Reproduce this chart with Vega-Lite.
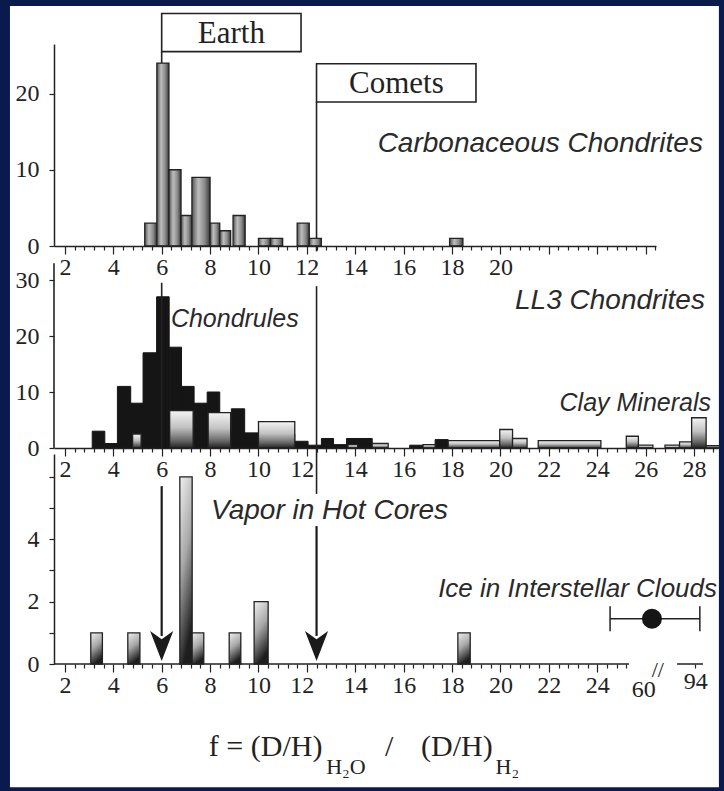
{
  "$schema": "https://vega.github.io/schema/vega-lite/v6.json",
  "padding": {"left": 9, "top": 5, "right": 6, "bottom": 5},
  "bounds": "flush",
  "spacing": 6,
  "resolve": {"scale": {"x": "independent", "y": "independent"}},
  "config": {
    "background": "#0b1a4c",
    "view": {"stroke": null},
    "axis": {"domainColor": "#222", "domainWidth": 1.5, "tickColor": "#222", "tickWidth": 1.2, "labelColor": "#222", "labelFont": "Liberation Serif", "labelFontSize": 24, "grid": false, "zindex": 1}
  },
  "datasets": {
    "frame": [{"x0": -0.27, "x1": 29.03, "y0": -71.0, "y1": 31.5}],
    "carb": [
      {"x0": 5.3, "x1": 5.8, "n": 3},
      {"x0": 5.8, "x1": 6.3, "n": 24},
      {"x0": 6.3, "x1": 6.8, "n": 10},
      {"x0": 6.8, "x1": 7.25, "n": 4},
      {"x0": 7.25, "x1": 8.0, "n": 9},
      {"x0": 8.0, "x1": 8.4, "n": 3},
      {"x0": 8.4, "x1": 8.85, "n": 2},
      {"x0": 8.95, "x1": 9.45, "n": 4},
      {"x0": 10.0, "x1": 10.5, "n": 1},
      {"x0": 10.5, "x1": 11.0, "n": 1},
      {"x0": 11.6, "x1": 12.1, "n": 3},
      {"x0": 12.1, "x1": 12.6, "n": 1},
      {"x0": 17.9, "x1": 18.45, "n": 1}
    ],
    "p1rules": [{"x": 6, "y0": 0, "y1": 25.5}, {"x": 12.4, "y0": -0.7, "y1": 18.9}],
    "boxes": [
      {"x0": 6, "x1": 11.76, "y0": 25.5, "y1": 30.5, "xc": 8.88, "yc": 28.0, "label": "Earth"},
      {"x0": 12.4, "x1": 18.99, "y0": 18.9, "y1": 23.9, "xc": 15.7, "yc": 21.4, "label": "Comets"}
    ],
    "p1text": [{"x": 28.37, "y": 13.4, "label": "Carbonaceous Chondrites"}],
    "chondrules": [
      {"x0": 3.13, "x1": 3.65, "n": 3},
      {"x0": 3.65, "x1": 4.17, "n": 0.8},
      {"x0": 4.17, "x1": 4.72, "n": 11},
      {"x0": 4.72, "x1": 5.23, "n": 8},
      {"x0": 5.23, "x1": 5.79, "n": 17},
      {"x0": 5.79, "x1": 6.31, "n": 27},
      {"x0": 6.31, "x1": 6.82, "n": 18},
      {"x0": 6.82, "x1": 7.34, "n": 11},
      {"x0": 7.34, "x1": 7.88, "n": 8},
      {"x0": 7.88, "x1": 8.4, "n": 10},
      {"x0": 8.4, "x1": 8.88, "n": 3},
      {"x0": 8.88, "x1": 9.43, "n": 7},
      {"x0": 9.43, "x1": 9.99, "n": 2.7},
      {"x0": 9.99, "x1": 11.5, "n": 2.5},
      {"x0": 11.5, "x1": 12.05, "n": 1.2},
      {"x0": 12.05, "x1": 12.6, "n": 0.5},
      {"x0": 12.6, "x1": 13.1, "n": 1.7},
      {"x0": 13.1, "x1": 13.64, "n": 0.6},
      {"x0": 13.64, "x1": 14.7, "n": 1.7},
      {"x0": 16.25, "x1": 16.8, "n": 0.5},
      {"x0": 17.3, "x1": 17.84, "n": 1.5}
    ],
    "clay": [
      {"x0": 4.8, "x1": 5.15, "n": 2.5},
      {"x0": 6.33, "x1": 7.3, "n": 6.7},
      {"x0": 7.92, "x1": 8.85, "n": 6.3},
      {"x0": 10.0, "x1": 11.5, "n": 4.7},
      {"x0": 13.7, "x1": 14.1, "n": 0.6},
      {"x0": 14.7, "x1": 15.36, "n": 0.8},
      {"x0": 16.8, "x1": 17.3, "n": 0.6},
      {"x0": 17.84, "x1": 19.97, "n": 1.3},
      {"x0": 19.97, "x1": 20.5, "n": 3.3},
      {"x0": 20.5, "x1": 21.1, "n": 1.7},
      {"x0": 21.56, "x1": 24.15, "n": 1.3},
      {"x0": 25.2, "x1": 25.7, "n": 2.1},
      {"x0": 25.7, "x1": 26.3, "n": 0.5},
      {"x0": 26.8, "x1": 27.4, "n": 0.5},
      {"x0": 27.4, "x1": 27.9, "n": 1.1},
      {"x0": 27.9, "x1": 28.5, "n": 5.4},
      {"x0": 28.5, "x1": 29.05, "n": 0.4}
    ],
    "p2rules": [{"x": 1.55, "y0": 0, "y1": 33.0}, {"x": 6, "y0": 0, "y1": 29.5}, {"x": 12.4, "y0": -8.2, "y1": 28.9}],
    "p2big": [{"x": 28.45, "y": 26.25, "label": "LL3 Chondrites"}],
    "p2left": [{"x": 6.38, "y": 23.0, "label": "Chondrules"}],
    "p2right": [{"x": 28.7, "y": 8.0, "label": "Clay Minerals"}],
    "vapor": [
      {"x0": 3.07, "x1": 3.55, "n": 1},
      {"x0": 4.6, "x1": 5.1, "n": 1},
      {"x0": 6.75, "x1": 7.26, "n": 6},
      {"x0": 7.26, "x1": 7.74, "n": 1},
      {"x0": 8.79, "x1": 9.27, "n": 1},
      {"x0": 9.82, "x1": 10.4, "n": 2},
      {"x0": 18.24, "x1": 18.75, "n": 1}
    ],
    "p3axis": [{"x0": 1.55, "x1": 25.31, "y": 0}, {"x0": 27.3, "x1": 28.37, "y": 0}],
    "arrows": [{"x": 6, "y0": 0.9, "y1": 5.7}, {"x": 12.4, "y0": 0.9, "y1": 4.42}],
    "heads": [{"x": 6, "y": 0.58}, {"x": 12.4, "y": 0.58}],
    "ice": [{"x": 26.26, "lo": 24.53, "hi": 28.24, "y": 1.45}],
    "icecaps": [{"x": 24.53, "y0": 1.05, "y1": 1.85}, {"x": 28.24, "y0": 1.05, "y1": 1.85}],
    "p3vapor": [{"x": 8.04, "y": 4.9, "label": "Vapor in Hot Cores"}],
    "p3ice": [{"x": 28.95, "y": 2.4, "label": "Ice in Interstellar Clouds"}],
    "brk": [{"x": 26.5, "y": -0.18, "label": "//"}],
    "formula": [
      {"x": 7.95, "y": -2.95, "label": "f = (D/H)"},
      {"x": 15.23, "y": -2.95, "label": "/"},
      {"x": 16.72, "y": -2.95, "label": "(D/H)"}
    ],
    "subs": [
      {"x": 12.8, "y": -3.53, "label": "H₂O"},
      {"x": 19.8, "y": -3.53, "label": "H₂"}
    ]
  },
  "vconcat": [
    {
      "width": 602,
      "height": 202,
      "layer": [
        {
          "data": {"name": "frame"},
          "mark": {"type": "rect", "fill": "white", "stroke": null},
          "encoding": {
            "x": {"field": "x0", "type": "quantitative", "scale": {"domain": [1.55, 26.43], "nice": false, "zero": false},
              "axis": {"title": null, "zindex": 2, "tickCount": 1000, "values": [2,2.4,2.8,3.2,3.6,4,4.4,4.8,5.2,5.6,6,6.4,6.8,7.2,7.6,8,8.4,8.8,9.2,9.6,10,10.4,10.8,11.2,11.6,12,12.4,12.8,13.2,13.6,14,14.4,14.8,15.2,15.6,16,16.4,16.8,17.2,17.6,18,18.4,18.8,19.2,19.6,20,20.4,20.8,21.2,21.6,22,22.4,22.8,23.2,23.6,24,24.4,24.8,25.2,25.6,26,26.4],
                "labelExpr": "datum.value % 2 == 0 && datum.value <= 20 ? '' + datum.value : ''",
                "tickSize": {"condition": {"test": "datum.value % 2 == 0", "value": 8}, "value": 4},
                "labelPadding": 1, "labelOverlap": false, "labelFlush": false, "labelBound": false}},
            "x2": {"field": "x1"},
            "y": {"field": "y0", "type": "quantitative", "scale": {"domain": [0, 26.5], "nice": false, "zero": false},
              "axis": {"title": null, "zindex": 2, "tickCount": 1000, "values": [0, 10, 20], "labelExpr": "'' + datum.value", "tickSize": 5, "labelPadding": 10, "labelOverlap": false, "labelFlush": false}},
            "y2": {"field": "y1"}
          }
        },
        {
          "data": {"name": "p1rules"},
          "mark": {"type": "rule", "color": "#222", "strokeWidth": 1.6},
          "encoding": {
            "x": {"field": "x", "type": "quantitative", "scale": {"domain": [1.55, 26.43], "nice": false, "zero": false}},
            "y": {"field": "y0", "type": "quantitative", "scale": {"domain": [0, 26.5], "nice": false, "zero": false}},
            "y2": {"field": "y1"}
          }
        },
        {
          "data": {"name": "carb"},
          "mark": {"type": "rect", "stroke": "#222", "strokeWidth": 1.3,
            "fill": {"gradient": "linear", "x1": 0, "y1": 0, "x2": 1, "y2": 0, "stops": [{"offset": 0, "color": "#555555"}, {"offset": 0.35, "color": "#bdbdbd"}, {"offset": 0.7, "color": "#8a8a8a"}, {"offset": 1, "color": "#383838"}]}},
          "encoding": {
            "x": {"field": "x0", "type": "quantitative", "scale": {"domain": [1.55, 26.43], "nice": false, "zero": false}},
            "x2": {"field": "x1"},
            "y": {"field": "n", "type": "quantitative", "scale": {"domain": [0, 26.5], "nice": false, "zero": false}},
            "y2": {"datum": 0}
          }
        },
        {
          "data": {"name": "boxes"},
          "mark": {"type": "rect", "fill": "white", "stroke": "#222", "strokeWidth": 1.6},
          "encoding": {
            "x": {"field": "x0", "type": "quantitative", "scale": {"domain": [1.55, 26.43], "nice": false, "zero": false}},
            "x2": {"field": "x1"},
            "y": {"field": "y0", "type": "quantitative", "scale": {"domain": [0, 26.5], "nice": false, "zero": false}},
            "y2": {"field": "y1"}
          }
        },
        {
          "data": {"name": "boxes"},
          "mark": {"type": "text", "font": "Liberation Serif", "fontSize": 31, "color": "#222", "align": "center", "baseline": "middle", "dy": 1},
          "encoding": {
            "x": {"field": "xc", "type": "quantitative", "scale": {"domain": [1.55, 26.43], "nice": false, "zero": false}},
            "y": {"field": "yc", "type": "quantitative", "scale": {"domain": [0, 26.5], "nice": false, "zero": false}},
            "text": {"field": "label"}
          }
        },
        {
          "data": {"name": "p1text"},
          "mark": {"type": "text", "font": "Liberation Sans", "fontStyle": "italic", "fontSize": 28, "color": "#2a2a2a", "align": "right", "baseline": "middle"},
          "encoding": {
            "x": {"field": "x", "type": "quantitative", "scale": {"domain": [1.55, 26.43], "nice": false, "zero": false}},
            "y": {"field": "y", "type": "quantitative", "scale": {"domain": [0, 26.5], "nice": false, "zero": false}},
            "text": {"field": "label"}
          }
        }
      ]
    },
    {
      "width": 664,
      "height": 196,
      "layer": [
        {
          "data": {"name": "chondrules"},
          "mark": {"type": "rect", "fill": "#151515", "stroke": "#151515", "strokeWidth": 1},
          "encoding": {
            "x": {"field": "x0", "type": "quantitative", "scale": {"domain": [1.55, 28.99], "nice": false, "zero": false},
              "axis": {"title": null, "zindex": 2, "tickCount": 1000, "values": [2,2.4,2.8,3.2,3.6,4,4.4,4.8,5.2,5.6,6,6.4,6.8,7.2,7.6,8,8.4,8.8,9.2,9.6,10,10.4,10.8,11.2,11.6,12,12.4,12.8,13.2,13.6,14,14.4,14.8,15.2,15.6,16,16.4,16.8,17.2,17.6,18,18.4,18.8,19.2,19.6,20,20.4,20.8,21.2,21.6,22,22.4,22.8,23.2,23.6,24,24.4,24.8,25.2,25.6,26,26.4,26.8,27.2,27.6,28,28.4,28.8],
                "labelExpr": "datum.value % 2 == 0 ? '' + datum.value : ''",
                "tickSize": {"condition": {"test": "datum.value % 2 == 0", "value": 8}, "value": 4},
                "labelOffset": {"condition": {"test": "datum.value == 12", "value": -5}, "value": 0},
                "labelPadding": 1, "labelOverlap": false, "labelFlush": false, "labelBound": false}},
            "x2": {"field": "x1"},
            "y": {"field": "n", "type": "quantitative", "scale": {"domain": [0, 35.0], "nice": false, "zero": false},
              "axis": {"title": null, "zindex": 2, "tickCount": 1000, "domain": false, "values": [0, 10, 20, 30], "labelExpr": "'' + datum.value", "tickSize": 5, "labelPadding": 10, "labelOverlap": false, "labelFlush": false}},
            "y2": {"datum": 0}
          }
        },
        {
          "data": {"name": "clay"},
          "mark": {"type": "rect", "stroke": "#222", "strokeWidth": 1.3,
            "fill": {"gradient": "linear", "x1": 0, "y1": 0, "x2": 0, "y2": 1, "stops": [{"offset": 0, "color": "#f4f4f4"}, {"offset": 0.45, "color": "#c2c2c2"}, {"offset": 0.8, "color": "#666666"}, {"offset": 1, "color": "#222222"}]}},
          "encoding": {
            "x": {"field": "x0", "type": "quantitative", "scale": {"domain": [1.55, 28.99], "nice": false, "zero": false}},
            "x2": {"field": "x1"},
            "y": {"field": "n", "type": "quantitative", "scale": {"domain": [0, 35.0], "nice": false, "zero": false}},
            "y2": {"datum": 0}
          }
        },
        {
          "data": {"name": "p2rules"},
          "mark": {"type": "rule", "color": "#222", "strokeWidth": 1.6},
          "encoding": {
            "x": {"field": "x", "type": "quantitative", "scale": {"domain": [1.55, 28.99], "nice": false, "zero": false}},
            "y": {"field": "y0", "type": "quantitative", "scale": {"domain": [0, 35.0], "nice": false, "zero": false}},
            "y2": {"field": "y1"}
          }
        },
        {
          "data": {"name": "p2big"},
          "mark": {"type": "text", "font": "Liberation Sans", "fontStyle": "italic", "fontSize": 28, "color": "#2a2a2a", "align": "right", "baseline": "middle"},
          "encoding": {
            "x": {"field": "x", "type": "quantitative", "scale": {"domain": [1.55, 28.99], "nice": false, "zero": false}},
            "y": {"field": "y", "type": "quantitative", "scale": {"domain": [0, 35.0], "nice": false, "zero": false}},
            "text": {"field": "label"}
          }
        },
        {
          "data": {"name": "p2left"},
          "mark": {"type": "text", "font": "Liberation Sans", "fontStyle": "italic", "fontSize": 25, "color": "#2a2a2a", "align": "left", "baseline": "middle"},
          "encoding": {
            "x": {"field": "x", "type": "quantitative", "scale": {"domain": [1.55, 28.99], "nice": false, "zero": false}},
            "y": {"field": "y", "type": "quantitative", "scale": {"domain": [0, 35.0], "nice": false, "zero": false}},
            "text": {"field": "label"}
          }
        },
        {
          "data": {"name": "p2right"},
          "mark": {"type": "text", "font": "Liberation Sans", "fontStyle": "italic", "fontSize": 25, "color": "#2a2a2a", "align": "right", "baseline": "middle"},
          "encoding": {
            "x": {"field": "x", "type": "quantitative", "scale": {"domain": [1.55, 28.99], "nice": false, "zero": false}},
            "y": {"field": "y", "type": "quantitative", "scale": {"domain": [0, 35.0], "nice": false, "zero": false}},
            "text": {"field": "label"}
          }
        }
      ]
    },
    {
      "width": 664,
      "height": 210,
      "layer": [
        {
          "data": {"name": "vapor"},
          "mark": {"type": "rect", "stroke": "#222", "strokeWidth": 1.3,
            "fill": {"gradient": "linear", "x1": 0, "y1": 0, "x2": 0.3, "y2": 1, "stops": [{"offset": 0, "color": "#f0f0f0"}, {"offset": 0.5, "color": "#a8a8a8"}, {"offset": 1, "color": "#1e1e1e"}]}},
          "encoding": {
            "x": {"field": "x0", "type": "quantitative", "scale": {"domain": [1.55, 28.99], "nice": false, "zero": false},
              "axis": {"title": null, "zindex": 2, "tickCount": 1000, "domain": false, "values": [2,2.4,2.8,3.2,3.6,4,4.4,4.8,5.2,5.6,6,6.4,6.8,7.2,7.6,8,8.4,8.8,9.2,9.6,10,10.4,10.8,11.2,11.6,12,12.4,12.8,13.2,13.6,14,14.4,14.8,15.2,15.6,16,16.4,16.8,17.2,17.6,18,18.4,18.8,19.2,19.6,20,20.4,20.8,21.2,21.6,22,22.4,22.8,23.2,23.6,24,24.4,24.8,25.2,25.9,28.05],
                "labelExpr": "datum.value == 25.9 ? '60' : (datum.value == 28.05 ? '94' : (datum.value % 2 == 0 ? '' + datum.value : ''))",
                "tickSize": {"condition": [{"test": "datum.value == 25.9", "value": 0}, {"test": "datum.value % 2 == 0", "value": 8}], "value": 4},
                "labelOffset": {"condition": {"test": "datum.value == 12", "value": -5}, "value": 0},
                "labelPadding": {"condition": {"test": "datum.value == 25.9", "value": 13}, "value": 1},
                "labelOverlap": false, "labelFlush": false, "labelBound": false}},
            "x2": {"field": "x1"},
            "y": {"field": "n", "type": "quantitative", "scale": {"domain": [0, 6.73], "nice": false, "zero": false},
              "axis": {"title": null, "zindex": 2, "tickCount": 1000, "values": [0, 1, 2, 3, 4, 5, 6], "labelExpr": "datum.value % 2 == 0 && datum.value < 6 ? '' + datum.value : ''", "tickSize": 5, "labelPadding": 10, "labelOverlap": false, "labelFlush": false}},
            "y2": {"datum": 0}
          }
        },
        {
          "data": {"name": "p3axis"},
          "mark": {"type": "rule", "color": "#222", "strokeWidth": 1.5},
          "encoding": {
            "x": {"field": "x0", "type": "quantitative", "scale": {"domain": [1.55, 28.99], "nice": false, "zero": false}},
            "x2": {"field": "x1"},
            "y": {"field": "y", "type": "quantitative", "scale": {"domain": [0, 6.73], "nice": false, "zero": false}}
          }
        },
        {
          "data": {"name": "arrows"},
          "mark": {"type": "rule", "color": "#1a1a1a", "strokeWidth": 2.2},
          "encoding": {
            "x": {"field": "x", "type": "quantitative", "scale": {"domain": [1.55, 28.99], "nice": false, "zero": false}},
            "y": {"field": "y0", "type": "quantitative", "scale": {"domain": [0, 6.73], "nice": false, "zero": false}},
            "y2": {"field": "y1"}
          }
        },
        {
          "data": {"name": "heads"},
          "mark": {"type": "point", "shape": "M-0.77,-1L0,1L0.77,-1L0,-0.45Z", "size": 900, "filled": true, "color": "#1a1a1a", "opacity": 1},
          "encoding": {
            "x": {"field": "x", "type": "quantitative", "scale": {"domain": [1.55, 28.99], "nice": false, "zero": false}},
            "y": {"field": "y", "type": "quantitative", "scale": {"domain": [0, 6.73], "nice": false, "zero": false}}
          }
        },
        {
          "data": {"name": "ice"},
          "mark": {"type": "rule", "color": "#222", "strokeWidth": 1.5},
          "encoding": {
            "x": {"field": "lo", "type": "quantitative", "scale": {"domain": [1.55, 28.99], "nice": false, "zero": false}},
            "x2": {"field": "hi"},
            "y": {"field": "y", "type": "quantitative", "scale": {"domain": [0, 6.73], "nice": false, "zero": false}}
          }
        },
        {
          "data": {"name": "icecaps"},
          "mark": {"type": "rule", "color": "#222", "strokeWidth": 1.5},
          "encoding": {
            "x": {"field": "x", "type": "quantitative", "scale": {"domain": [1.55, 28.99], "nice": false, "zero": false}},
            "y": {"field": "y0", "type": "quantitative", "scale": {"domain": [0, 6.73], "nice": false, "zero": false}},
            "y2": {"field": "y1"}
          }
        },
        {
          "data": {"name": "ice"},
          "mark": {"type": "point", "shape": "circle", "size": 400, "filled": true, "color": "#151515", "opacity": 1},
          "encoding": {
            "x": {"field": "x", "type": "quantitative", "scale": {"domain": [1.55, 28.99], "nice": false, "zero": false}},
            "y": {"field": "y", "type": "quantitative", "scale": {"domain": [0, 6.73], "nice": false, "zero": false}}
          }
        },
        {
          "data": {"name": "p3vapor"},
          "mark": {"type": "text", "font": "Liberation Sans", "fontStyle": "italic", "fontSize": 28, "color": "#2a2a2a", "align": "left", "baseline": "middle"},
          "encoding": {
            "x": {"field": "x", "type": "quantitative", "scale": {"domain": [1.55, 28.99], "nice": false, "zero": false}},
            "y": {"field": "y", "type": "quantitative", "scale": {"domain": [0, 6.73], "nice": false, "zero": false}},
            "text": {"field": "label"}
          }
        },
        {
          "data": {"name": "p3ice"},
          "mark": {"type": "text", "font": "Liberation Sans", "fontStyle": "italic", "fontSize": 26, "color": "#2a2a2a", "align": "right", "baseline": "middle"},
          "encoding": {
            "x": {"field": "x", "type": "quantitative", "scale": {"domain": [1.55, 28.99], "nice": false, "zero": false}},
            "y": {"field": "y", "type": "quantitative", "scale": {"domain": [0, 6.73], "nice": false, "zero": false}},
            "text": {"field": "label"}
          }
        },
        {
          "data": {"name": "brk"},
          "mark": {"type": "text", "font": "Liberation Serif", "fontSize": 22, "color": "#222", "align": "center", "baseline": "middle"},
          "encoding": {
            "x": {"field": "x", "type": "quantitative", "scale": {"domain": [1.55, 28.99], "nice": false, "zero": false}},
            "y": {"field": "y", "type": "quantitative", "scale": {"domain": [0, 6.73], "nice": false, "zero": false}},
            "text": {"field": "label"}
          }
        },
        {
          "data": {"name": "formula"},
          "mark": {"type": "text", "font": "Liberation Serif", "fontSize": 30, "color": "#222", "align": "left", "baseline": "alphabetic"},
          "encoding": {
            "x": {"field": "x", "type": "quantitative", "scale": {"domain": [1.55, 28.99], "nice": false, "zero": false}},
            "y": {"field": "y", "type": "quantitative", "scale": {"domain": [0, 6.73], "nice": false, "zero": false}},
            "text": {"field": "label"}
          }
        },
        {
          "data": {"name": "subs"},
          "mark": {"type": "text", "font": "Liberation Serif", "fontSize": 22, "color": "#222", "align": "left", "baseline": "alphabetic"},
          "encoding": {
            "x": {"field": "x", "type": "quantitative", "scale": {"domain": [1.55, 28.99], "nice": false, "zero": false}},
            "y": {"field": "y", "type": "quantitative", "scale": {"domain": [0, 6.73], "nice": false, "zero": false}},
            "text": {"field": "label"}
          }
        }
      ]
    }
  ]
}
